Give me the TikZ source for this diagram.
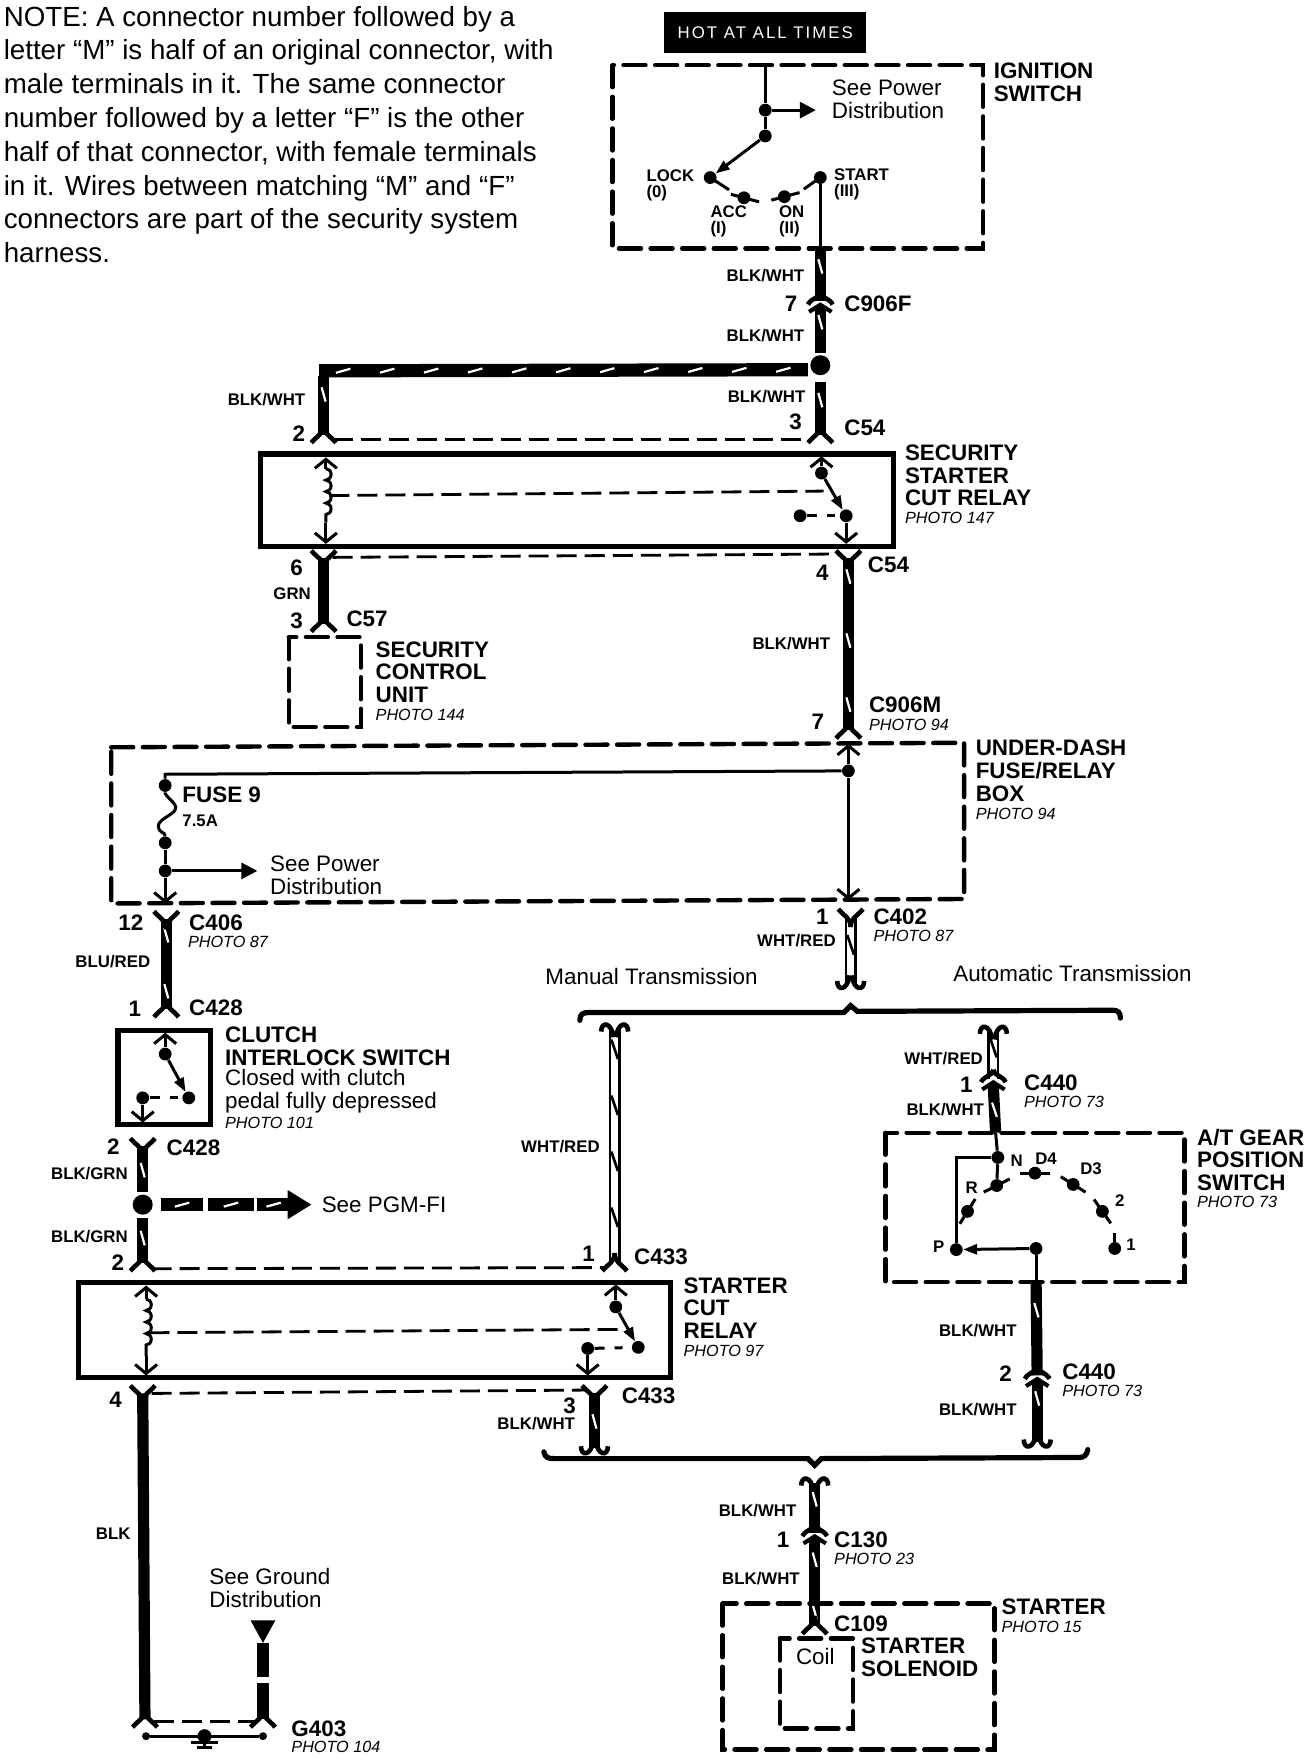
\documentclass[tikz,border=0pt]{standalone}
\usepackage{fontspec}
\setmainfont{Liberation Sans}
\newfontfamily\hotfont[LetterSpace=12]{Liberation Sans}
\usetikzlibrary{positioning,calc,arrows.meta,decorations.markings,decorations.pathmorphing}

\tikzset{
	bigtxt/.style={anchor=west,align=left,inner sep=0pt,font=\bfseries\fontsize{11.2}{11.3}\selectfont},
	tinytxt/.style={anchor=west,align=left,inner sep=0pt,font=\bfseries\fontsize{8.4}{8.4}\selectfont},
	rtxt/.style={tinytxt,anchor=east},
	phototxt/.style={anchor=west,inner sep=0pt,font=\itshape\fontsize{8.1}{9}\selectfont},
	plaintxt/.style={anchor=west,align=left,inner sep=0pt,font=\fontsize{11.2}{11.4}\selectfont},
	dashbox/.style={line width=2.2pt,line cap=round,dash pattern=on 11pt off 4.8pt},
	solidbox/.style={line width=2.6pt},
	thin wire/.style={line width=1.5pt},
	linkdash/.style={line width=1.4pt,dash pattern=on 10pt off 4pt},
	restdash/.style={thin wire,dash pattern=on 5pt off 5pt on 4pt off 5pt on 6pt},
	wire/.style={line width=5.6pt},
	slashed/.style={postaction={decorate},decoration={markings,mark=between positions #1 with {\draw[white,line width=1.1pt] (-3.6pt,-1pt) -- (3.6pt,1pt);}}},
	slashed/.default={9pt and -5pt step 32pt},
	striped/.style={double,line width=1.2pt,double distance=3.6pt,postaction={decorate},decoration={markings,mark=between positions #1 with {\fill (-5pt,-2.4pt) -- (-5pt,-1pt) -- (5pt,2.4pt) -- (5pt,1pt) -- cycle;}}},
	striped/.default={10pt and -4pt step 27pt},
	dot/.style={circle,fill,inner sep=0pt,minimum size=6.4pt},
	bigdot/.style={circle,fill,inner sep=0pt,minimum size=10pt},
	barb/.style={-{Straight Barb[length=4.5pt,width=11pt]},thin wire},
	solidtip/.style={-{Triangle[length=8pt,width=8pt]},thin wire},
	armtip/.style={-{Triangle[length=7pt,width=5pt]},thin wire},
	prong/.style={line width=2.3pt},
	bracket/.style={line width=2.6pt,line cap=round},
	coilwire/.style={thin wire,decorate,decoration={bumps,segment length=11.5pt,amplitude=2.6pt}},
	plugdown/.pic={
		\draw[prong] (0,-9) .. controls (0,-1) and (-5,0) .. (-11,7);
		\draw[prong] (0,-9) .. controls (0,-1) and (5,0) .. (11,7);
	},
	hookend/.pic={
		\draw[prong] (-1,-7) .. controls (-3,7) and (-12,7) .. (-12,-2);
		\draw[prong] (1,-7) .. controls (3,7) and (12,7) .. (12,-2);
	},
	plugpair/.pic={
		\draw[prong] (0,-8) .. controls (0,-3) and (-8,-3) .. (-11,3);
		\draw[prong] (0,-8) .. controls (0,-3) and (8,-3) .. (11,3);
		\fill (0,1) -- (11,8) -- (9,11) -- (4,8) -- (-4,8) -- (-9,11) -- (-11,8) -- cycle;
	},
}

\begin{document}
\begin{tikzpicture}[x=0.5616pt,y=-0.5616pt]
	\useasboundingbox (0,0) rectangle (1168,1568);
	\node[plaintxt,font=\fontsize{13.85}{16.9}\selectfont,anchor=north west] (note) at (3,5) {NOTE: A connector number followed by a\\letter “M” is half of an original connector, with\\male terminals in it. The same connector\\number followed by a letter “F” is the other\\half of that connector, with female terminals\\in it. Wires between matching “M” and “F”\\connectors are part of the security system\\harness.};
	%
	% ignition switch
	\node[fill,minimum width=101pt,minimum height=20.4pt,inner sep=0pt,text=white,font=\hotfont\fontsize{8.4}{9}\selectfont] (hot) at (681,29) {HOT AT ALL TIMES};
	\draw[dashbox] (545,58) rectangle (875,221);
	\node[bigtxt] (ignlabel) at (884,73) {IGNITION\\SWITCH};
	\node[plaintxt] (seepower) at (740,88) {See Power\\Distribution};
	\coordinate (igntop) at (681,58);
	\node[dot] (ignjoin) at (681,98) {};
	\node[dot] (ignpivot) at (681,121) {};
	\coordinate (ignarrow) at (726,98);
	\foreach \sname/\spos/\sang/\sa/\sb in {lock/{632,158}/33/0/20,acc/{662,176}/15/-12/14,on/{698,175}/-15/-12/14,start/{730,158}/-35/-18/0} {
		\node[dot] (\sname) at (\spos) {};
		\draw[thin wire] (\sname) ++(\sang:\sa) -- ($(\sname)+(\sang:\sb)$);
	}
	\draw[thin wire] (igntop) -- (ignjoin) -- (ignpivot);
	\draw[solidtip] (ignjoin) -- (ignarrow);
	\draw[armtip] (ignpivot) -- (lock);
	\node[tinytxt] (locklabel) at (575,165) {LOCK\\(0)};
	\node[tinytxt] (acclabel) at (632,197) {ACC\\(I)};
	\node[tinytxt] (onlabel) at (693,197) {ON\\(II)};
	\node[tinytxt] (startlabel) at (742,164) {START\\(III)};
	\coordinate (ignout) at (730,221);
	\draw[thin wire] (start) -- (ignout);
	%
	% C906F and the splice
	\coordinate (c906fa) at (730,268);
	\coordinate (c906fb) at (730,276);
	\node[bigdot] (splice) at (730,325) {};
	\coordinate (splicedn) at (730,340);
	\coordinate (spliceup) at (730,314);
	\coordinate (c54a) at (730,387);
	\coordinate (c54b) at (288,387);
	\coordinate (leftcorner) at (284,330);
	\coordinate (splicelt) at (719,329);
	\coordinate (leftdrop) at (288,335);
	\draw[wire,slashed] (ignout) -- (c906fa);
	\pic at (c906fa) {plugpair};
	\draw[wire,slashed={6pt and -3pt step 32pt}] (c906fb) -- (spliceup);
	\draw[line width=6.6pt,slashed={12pt and -4pt step 22pt}] (leftcorner) -- (splicelt);
	\draw[wire,slashed] (leftdrop) -- (c54b);
	\draw[wire,slashed] (splicedn) -- (c54a);
	\pic at (c54a) {plugdown};
	\pic at (c54b) {plugdown};
	\draw[linkdash] (c54b) ++(8,4) -- ($(c54a)+(-8,4)$);
	\node[rtxt] (w1) at (716,245) {BLK/WHT};
	\node[bigtxt] (n7a) at (698,270) {7};
	\node[bigtxt] (c906flabel) at (751,270) {C906F};
	\node[rtxt] (w2) at (716,299) {BLK/WHT};
	\node[rtxt] (w3) at (717,353) {BLK/WHT};
	\node[rtxt] (w4) at (272,356) {BLK/WHT};
	\node[bigtxt] (n2a) at (260,386) {2};
	\node[bigtxt] (n3a) at (702,375) {3};
	\node[bigtxt] (c54label) at (751,381) {C54};
	%
	% security starter cut relay
	\draw[solidbox] (232,404) rectangle (795,486);
	\node[bigtxt] (seclabel) at (805,423) {SECURITY\\STARTER\\CUT RELAY};
	\node[phototxt] (secphoto) at (805,461) {PHOTO 147};
	\coordinate (sectl) at (290,407);
	\coordinate (secbl) at (290,484);
	\coordinate (coilatop) at (290,417);
	\coordinate (coilabot) at (290,465);
	\coordinate (coilamid) at (293,441);
	\coordinate (secarm) at (733,437);
	\coordinate (sectr) at (731,406);
	\coordinate (secbr) at (753,484);
	\node[dot] (secin) at (731,421) {};
	\node[dot] (secout) at (753,459) {};
	\node[dot] (secrest) at (712,459) {};
	\draw[barb] (coilatop) -- (sectl);
	\draw[barb] (coilabot) -- (secbl);
	\draw[coilwire] (coilatop) -- (coilabot);
	\draw[linkdash] (coilamid) -- (secarm);
	\draw[barb] (secin) -- (sectr);
	\draw[barb] (secout) -- (secbr);
	\draw[armtip] (secin) -- (secout);
	\draw[restdash] (secrest) -- (secout);
	%
	% C54 below, C57, security control unit
	\coordinate (c54c) at (288,497);
	\coordinate (c54d) at (755,497);
	\coordinate (c57) at (288,555);
	\coordinate (c906m) at (755,650);
	\draw[linkdash] (c54c) ++(8,-1) -- ($(c54d)+(-8,-4)$);
	\draw[wire] (c54c) -- (c57);
	\draw[wire,slashed] (c54d) -- (c906m);
	\pic[rotate=180] at (c54c) {plugdown};
	\pic[rotate=180] at (c54d) {plugdown};
	\pic at (c57) {plugdown};
	\pic at (c906m) {plugdown};
	\draw[dashbox] (257,567) rectangle (321,647);
	\node[bigtxt] (n6) at (258,505) {6};
	\node[tinytxt] (grn) at (243,528) {GRN};
	\node[bigtxt] (n3b) at (258,552) {3};
	\node[bigtxt] (c57label) at (308,551) {C57};
	\node[bigtxt] (sculabel) at (334,598) {SECURITY\\CONTROL\\UNIT};
	\node[phototxt] (scuphoto) at (334,636) {PHOTO 144};
	\node[bigtxt] (n4a) at (726,510) {4};
	\node[bigtxt] (c54labelb) at (772,503) {C54};
	\node[rtxt] (w5) at (739,573) {BLK/WHT};
	\node[bigtxt] (c906mlabel) at (773,627) {C906M};
	\node[phototxt] (c906mphoto) at (773,645) {PHOTO 94};
	\node[bigtxt] (n7b) at (722,642) {7};
	%
	% under-dash fuse box
	\draw[dashbox] (99,665) -- (858,661) -- (858,800) -- (99,804) -- cycle;
	\node[bigtxt] (boxlabel) at (868,686) {UNDER-DASH\\FUSE/RELAY\\BOX};
	\node[phototxt] (boxphoto) at (868,724) {PHOTO 94};
	\node[dot] (fusehot) at (755,686) {};
	\node[dot] (fusea) at (147,699) {};
	\node[dot] (fuseb) at (147,750) {};
	\node[dot] (fusetap) at (147,775) {};
	\coordinate (fusetop) at (755,662);
	\coordinate (fusebot) at (755,801);
	\coordinate (fusecorner) at (147,689);
	\coordinate (fusearrow) at (229,775);
	\coordinate (fuseout) at (147,804);
	\draw[barb] (fusehot) -- (fusetop);
	\draw[barb] (fusehot) -- (fusebot);
	\draw[thin wire] (fusehot) -- (fusecorner) -- (fusea);
	\draw[thin wire] (fusea) -- (147,706) .. controls (150,712) and (160,716) .. (155,722) .. controls (150,727) and (140,730) .. (141,736) .. controls (142,742) and (147,740) .. (fuseb);
	\draw[thin wire] (fuseb) -- (fusetap);
	\draw[solidtip] (fusetap) -- (fusearrow);
	\draw[barb] (fusetap) -- (fuseout);
	\node[bigtxt] (fuselabel) at (162,707) {FUSE 9};
	\node[tinytxt] (fuseamps) at (162,730) {7.5A};
	\node[plaintxt] (seepowerb) at (240,779) {See Power\\Distribution};
	%
	% C406 to C428, clutch switch
	\coordinate (c406) at (148,818);
	\coordinate (c428a) at (148,898);
	\draw[wire,slashed={8pt and -5pt step 28pt}] (c406) -- (c428a);
	\pic[rotate=180] at (c406) {plugdown};
	\pic at (c428a) {plugdown};
	\node[bigtxt] (n12) at (105,821) {12};
	\node[bigtxt] (c406label) at (168,821) {C406};
	\node[phototxt] (c406photo) at (167,838) {PHOTO 87};
	\node[rtxt] (blured) at (134,856) {BLU/RED};
	\node[bigtxt] (n1a) at (114,898) {1};
	\node[bigtxt] (c428label) at (168,897) {C428};
	\draw[solidbox] (105,917) rectangle (187,1001);
	\node[dot] (clin) at (147,938) {};
	\node[dot] (clout) at (168,977) {};
	\node[dot] (clrest) at (127,977) {};
	\coordinate (cltop) at (147,919);
	\coordinate (clbot) at (127,999);
	\draw[barb] (clin) -- (cltop);
	\draw[armtip] (clin) -- (clout);
	\draw[restdash] (clrest) -- (clout);
	\draw[barb] (clrest) -- (clbot);
	\node[bigtxt] (clabel) at (200,931) {CLUTCH\\INTERLOCK SWITCH};
	\node[plaintxt] (cltext) at (200,971) {Closed with clutch\\pedal fully depressed};
	\node[phototxt] (clphoto) at (200,999) {PHOTO 101};
	%
	% C428 below, PGM-FI branch
	\coordinate (c428b) at (127,1020);
	\coordinate (pgmup) at (127,1061);
	\coordinate (pgmdn) at (127,1084);
	\coordinate (c433a) at (127,1124);
	\node[bigdot] (pgm) at (127,1072) {};
	\draw[wire,slashed={12pt and -3pt step 30pt}] (c428b) -- (pgmup);
	\draw[wire,slashed={10pt and -3pt step 30pt}] (pgmdn) -- (c433a);
	\foreach \sxa/\sxb in {143/181,185/226,229/258} {
		\draw[line width=6.6pt,slashed={0.5 and 0.5 step 1pt}] (\sxa,1072) -- (\sxb,1072);
	}
	\fill (256,1059) -- (277,1072) -- (256,1085) -- cycle;
	\pic[rotate=180] at (c428b) {plugdown};
	\pic at (c433a) {plugdown};
	\node[bigtxt] (n2b) at (95,1020) {2};
	\node[bigtxt] (c428labelb) at (148,1021) {C428};
	\node[rtxt] (bg1) at (114,1044) {BLK/GRN};
	\node[rtxt] (bg2) at (114,1100) {BLK/GRN};
	\node[plaintxt] (seepgm) at (286,1072) {See PGM-FI};
	\node[bigtxt] (n2c) at (99,1124) {2};
	%
	% starter cut relay
	\draw[solidbox] (70,1141) rectangle (597,1226);
	\node[bigtxt] (sclabel) at (608,1164) {STARTER\\CUT\\RELAY};
	\node[phototxt] (scphoto) at (608,1202) {PHOTO 97};
	\coordinate (c433b) at (547,1124);
	\draw[linkdash] (c433a) ++(8,5) -- ($(c433b)+(-8,4)$);
	\coordinate (stl) at (130,1144);
	\coordinate (sbl) at (130,1224);
	\coordinate (coilbtop) at (130,1156);
	\coordinate (coilbbot) at (130,1207);
	\coordinate (coilbmid) at (133,1186);
	\coordinate (strr) at (548,1143);
	\coordinate (sarm) at (553,1183);
	\coordinate (sbr) at (523,1224);
	\node[dot] (sin) at (548,1163) {};
	\node[dot] (sout) at (568,1199) {};
	\node[dot] (srest) at (523,1200) {};
	\draw[barb] (coilbtop) -- (stl);
	\draw[barb] (coilbbot) -- (sbl);
	\draw[coilwire] (coilbtop) -- (coilbbot);
	\draw[linkdash] (coilbmid) -- (sarm);
	\draw[barb] (sin) -- (strr);
	\draw[armtip] (sin) -- (sout);
	\draw[restdash] (srest) -- (sout);
	\draw[barb] (srest) -- (sbr);
	%
	% C402 and the transmission split
	\coordinate (c402) at (757,816);
	\coordinate (c402b) at (757,875);
	\draw[striped={14pt and -8pt step 27pt}] (c402) -- (c402b);
	\pic[rotate=180] at (c402) {plugdown};
	\pic at (c402b) {hookend};
	\node[bigtxt] (n1b) at (726,816) {1};
	\node[bigtxt] (c402label) at (777,816) {C402};
	\node[phototxt] (c402photo) at (777,833) {PHOTO 87};
	\node[rtxt] (wr1) at (744,837) {WHT/RED};
	\node[plaintxt] (manual) at (485,869) {Manual Transmission};
	\node[plaintxt] (auto) at (848,866) {Automatic Transmission};
	\draw[bracket] (516,908) .. controls (516,902) and (519,901) .. (525,901) -- (751,901) -- (757,895) -- (763,900) -- (990,899) .. controls (995,899) and (997,901) .. (997,906);
	\coordinate (mantop) at (547,916);
	\draw[striped={10pt and -6pt step 28pt}] (mantop) -- (c433b);
	\pic[rotate=180] at (mantop) {hookend};
	\pic at (c433b) {plugdown};
	\node[rtxt] (wr2) at (534,1020) {WHT/RED};
	\node[bigtxt] (n1c) at (518,1116) {1};
	\node[bigtxt] (c433label) at (564,1118) {C433};
	%
	% C433 below, ground wire
	\coordinate (c433c) at (529,1240);
	\coordinate (c433d) at (529,1289);
	\coordinate (blktop) at (127,1240);
	\coordinate (g403a) at (129,1530);
	\draw[linkdash] (blktop) ++(8,0) -- ($(c433c)+(-8,-3)$);
	\draw[wire] (blktop) -- (g403a);
	\draw[wire,slashed={14pt and -6pt step 30pt}] (c433c) -- (c433d);
	\pic[rotate=180] at (blktop) {plugdown};
	\pic[rotate=180] at (c433c) {plugdown};
	\pic at (c433d) {hookend};
	\node[bigtxt] (n4b) at (97,1246) {4};
	\node[tinytxt] (blk) at (85,1365) {BLK};
	\node[bigtxt] (n3c) at (501,1251) {3};
	\node[rtxt] (w6) at (512,1267) {BLK/WHT};
	\node[bigtxt] (c433labelb) at (553,1242) {C433};
	%
	% automatic side
	\coordinate (auttop) at (884,918);
	\coordinate (c440a) at (884,960);
	\coordinate (c440b) at (884,968);
	\coordinate (atgtop) at (886,1008);
	\draw[striped={8pt and -6pt step 27pt}] (auttop) -- (c440a);
	\pic[rotate=180] at (auttop) {hookend};
	\pic at (c440a) {plugpair};
	\draw[wire,slashed={11pt and -4pt step 30pt}] (c440b) -- (atgtop);
	\node[rtxt] (wr3) at (875,942) {WHT/RED};
	\node[bigtxt] (n1d) at (854,965) {1};
	\node[bigtxt] (c440label) at (911,964) {C440};
	\node[phototxt] (c440photo) at (911,981) {PHOTO 73};
	\node[rtxt] (w7) at (876,987) {BLK/WHT};
	\draw[dashbox] (788,1008) rectangle (1054,1141);
	\node[bigtxt] (atlabel) at (1065,1032) {A/T GEAR\\POSITION\\SWITCH};
	\node[phototxt] (atphoto) at (1065,1070) {PHOTO 73};
	\node[dot] (atjoin) at (888,1030) {};
	\node[dot] (atp) at (851,1112) {};
	\node[dot] (atc) at (922,1111) {};
	\foreach \sname/\spos/\sang in {atn/{887,1055}/-27,atr/{861,1078}/-58,atd4/{921,1044}/0,atd3/{955,1054}/32,atii/{981,1078}/55} {
		\node[dot] (\sname) at (\spos) {};
		\draw[thin wire] (\sname) ++(\sang:-13) -- ($(\sname)+(\sang:13)$);
	}
	\node[dot] (ati) at (992,1111) {};
	\coordinate (atistub) at (992,1097);
	\coordinate (atcorner) at (851,1030);
	\coordinate (atout) at (922,1141);
	\coordinate (c440c) at (923,1224);
	\coordinate (c440d) at (923,1232);
	\coordinate (c440e) at (923,1283);
	\draw[thin wire] (atgtop) -- (atjoin) -- (atn);
	\draw[thin wire] (atjoin) -- (atcorner) -- (atp);
	\draw[armtip] (atc) -- (atp);
	\draw[thin wire] (ati) -- (atistub);
	\draw[thin wire] (atc) -- (atout);
	\draw[wire,slashed={14pt and -5pt step 30pt}] (atout) -- (c440c);
	\pic at (c440c) {plugpair};
	\draw[wire,slashed={7pt and -6pt step 30pt}] (c440d) -- (c440e);
	\pic at (c440e) {hookend};
	\node[tinytxt] (labn) at (899,1033) {N};
	\node[tinytxt] (labd4) at (921,1031) {D4};
	\node[tinytxt] (labd3) at (961,1040) {D3};
	\node[tinytxt] (labr) at (859,1057) {R};
	\node[tinytxt] (labp) at (830,1109) {P};
	\node[tinytxt] (lab2) at (992,1068) {2};
	\node[tinytxt] (lab1) at (1002,1108) {1};
	\node[rtxt] (w8) at (905,1184) {BLK/WHT};
	\node[bigtxt] (n2d) at (889,1222) {2};
	\node[bigtxt] (c440labelb) at (945,1221) {C440};
	\node[phototxt] (c440photob) at (945,1238) {PHOTO 73};
	\node[rtxt] (w9) at (905,1254) {BLK/WHT};
	%
	% joined wire to the starter
	\draw[bracket] (484,1292) .. controls (485,1297) and (488,1298) .. (493,1298) -- (719,1298) -- (725,1304) -- (731,1298) -- (960,1297) .. controls (965,1297) and (967,1295) .. (968,1290);
	\coordinate (sttop) at (725,1320);
	\coordinate (c130a) at (725,1364);
	\coordinate (c130b) at (725,1372);
	\coordinate (c109) at (725,1447);
	\draw[wire,slashed={8pt and -5pt step 26pt}] (sttop) -- (c130a);
	\pic[rotate=180] at (sttop) {hookend};
	\pic at (c130a) {plugpair};
	\draw[wire,slashed={9pt and -4pt step 26pt}] (c130b) -- (c109);
	\pic at (c109) {plugdown};
	\node[rtxt] (w10) at (709,1344) {BLK/WHT};
	\node[bigtxt] (n1e) at (691,1370) {1};
	\node[bigtxt] (c130label) at (742,1370) {C130};
	\node[phototxt] (c130photo) at (742,1387) {PHOTO 23};
	\node[rtxt] (w11) at (712,1405) {BLK/WHT};
	\node[bigtxt] (c109label) at (742,1445) {C109};
	\draw[dashbox] (643,1427) rectangle (885,1557);
	\node[bigtxt] (stlabel) at (891,1430) {STARTER};
	\node[phototxt] (stphoto) at (891,1448) {PHOTO 15};
	\draw[dashbox] (694,1458) rectangle (759,1538);
	\node[plaintxt] (coil) at (708,1474) {Coil};
	\node[bigtxt] (solabel) at (766,1475) {STARTER\\SOLENOID};
	%
	% ground
	\node[plaintxt] (seeground) at (186,1413) {See Ground\\Distribution};
	\coordinate (gndtip) at (234,1462);
	\coordinate (gndgap) at (234,1492);
	\coordinate (gndgapb) at (234,1498);
	\coordinate (g403b) at (234,1530);
	\fill (223,1442) -- (245,1442) -- (gndtip) -- cycle;
	\draw[wire] (gndtip) -- (gndgap);
	\draw[wire] (gndgapb) -- (g403b);
	\pic at (g403a) {plugdown};
	\pic at (g403b) {plugdown};
	\draw[linkdash] (g403a) ++(8,2) -- ($(g403b)+(-8,2)$);
	\node[dot,minimum size=4pt] (gnda) at (130,1545) {};
	\node[dot,minimum size=4pt] (gndb) at (234,1545) {};
	\node[dot,minimum size=7pt] (gndc) at (182,1545) {};
	\draw[thin wire] (gnda) -- (gndb);
	\draw[thin wire] (gndc) -- ++(0,9);
	\draw[thin wire] (170,1551) -- ++(24,0);
	\draw[thin wire] (175,1555) -- ++(14,0);
	\node[bigtxt] (g403label) at (259,1538) {G403};
	\node[phototxt] (g403photo) at (259,1555) {PHOTO 104};
\end{tikzpicture}
\end{document}
